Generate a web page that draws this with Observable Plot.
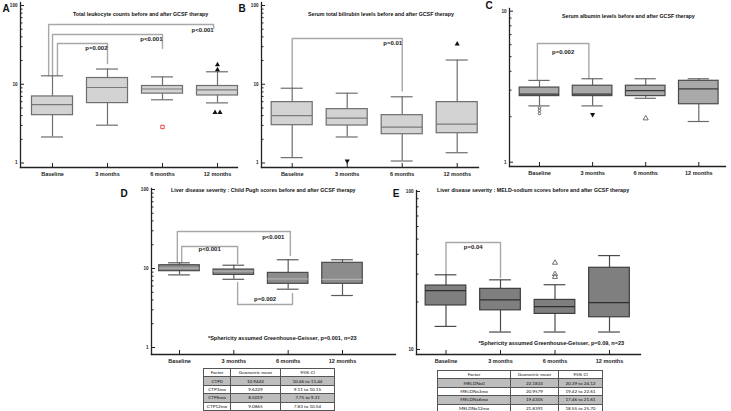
<!DOCTYPE html>
<html><head><meta charset="utf-8">
<script src="https://cdn.jsdelivr.net/npm/d3@7"></script>
<script src="https://cdn.jsdelivr.net/npm/@observablehq/plot@0.6"></script>
<style>
body{margin:0;background:#fff;}
#wrap{position:relative;width:731px;height:411px;overflow:hidden;font-family:"Liberation Sans",Arial,sans-serif;color:#111;}
#wrap svg{position:absolute;overflow:visible;}
.title{position:absolute;font-weight:bold;font-size:5.3px;white-space:nowrap;transform:translate(0,-50%);}
.note{position:absolute;font-weight:bold;font-size:5.5px;white-space:nowrap;}
.letter{position:absolute;font-weight:bold;font-size:10px;transform:translate(-50%,-50%);}
table{position:absolute;border-collapse:collapse;font-family:Lato,"Open Sans",sans-serif;font-size:4.6px;table-layout:fixed;background:#fff;}
td{border:0.8px solid #555;text-align:center;padding:0;height:7.4px;line-height:7px;}
tr.sh td{background:#bdbdbd;}
</style></head><body><div id="wrap"></div>
<script>
const cats = ["Baseline", "3 months", "6 months", "12 months"];

// Panel A: total leukocyte counts
const A_low  = [2.14, 3.02, 6.35, 5.8];
const A_q1   = [4.05, 5.76, 7.6, 7.2];
const A_med  = [5.5, 9.1, 8.7, 8.5];
const A_q3   = [7.0, 12.0, 9.5, 9.5];
const A_high = [12.8, 15.6, 12.4, 14.4];
const A_outCat = [2, 3, 3, 3, 3];
const A_outVal = [2.87, 17.7, 15.3, 4.37, 4.37];
const A_outSym = ["redsquare", "tri", "tri", "tri", "tri"];

// Panel B: serum total bilirubin
const B_low  = [1.17, 2.14, 1.06, 1.35];
const B_q1   = [3.02, 2.99, 2.32, 2.39];
const B_med  = [4.0, 3.71, 2.85, 3.11];
const B_q3   = [5.93, 4.83, 4.05, 5.93];
const B_high = [8.9, 7.7, 6.93, 20.3];
const B_outCat = [1, 3];
const B_outVal = [1.06, 32.5];
const B_outSym = ["tridown", "tri"];

// Panel C: serum albumin
const C_low  = [2.36, 2.36, 2.65, 1.86];
const C_q1   = [2.74, 2.74, 2.74, 2.42];
const C_med  = [2.82, 2.82, 2.98, 3.06];
const C_q3   = [3.12, 3.21, 3.21, 3.46];
const C_high = [3.48, 3.57, 3.57, 3.57];
const C_outCat = [0, 0, 0, 1, 2];
const C_outVal = [2.29, 2.2, 2.1, 2.07, 1.95];
const C_outSym = ["circ", "circ", "circ", "tridown", "triopen"];

// Panel D: Child Pugh scores
const D_low  = [8.3, 7.3, 5.47, 4.55];
const D_q1   = [9.25, 8.3, 6.4, 6.4];
const D_med  = [10.1, 9.25, 7.4, 7.3];
const D_q3   = [11.0, 9.7, 8.8, 11.8];
const D_high = [11.8, 11.0, 12.9, 12.9];

// Panel E: MELD-sodium scores
const E_low  = [14.0, 12.9, 12.9, 12.9];
const E_q1   = [19.0, 17.7, 16.8, 16.0];
const E_med  = [23.6, 20.6, 18.7, 19.8];
const E_q3   = [25.4, 24.2, 20.6, 32.9];
const E_high = [29.7, 27.6, 25.7, 39.3];
const E_outCat = [2, 2, 2];
const E_outVal = [35.4, 30.0, 28.8];
const E_outSym = ["triopen", "triopen", "triopen"];

// significance brackets (category a -> category b, end values, bracket level, label)
const A_brA = [0, 0, 0], A_brB = [3, 2, 1];
const A_brEndA = [12.8, 12.8, 12.8], A_brEndB = [51, 28.4, 18.3];
const A_brLevel = [57.4, 42.8, 32.9], A_brLabel = ["p<0.001", "p<0.001", "p=0.002"];
const B_brA = [0], B_brB = [2], B_brEndA = [8.9], B_brEndB = [8.2], B_brLevel = [38.1], B_brLabel = ["p=0.01"];
const C_brA = [0], C_brB = [1], C_brEndA = [3.48], C_brEndB = [3.57], C_brLevel = [6.11], C_brLabel = ["p=0.002"];
const D_brA = [0, 0, 1], D_brB = [2, 1, 2];
const D_brEndA = [11.8, 11.8, 6.65], D_brEndB = [14.6, 11.6, 4.83];
const D_brLevel = [29.4, 19.0, 3.5], D_brLabel = ["p<0.001", "p<0.001", "p=0.002"];
const E_brA = [0], E_brB = [1], E_brEndA = [29.7], E_brEndB = [28.6], E_brLevel = [47.6], E_brLabel = ["p=0.04"];

// tables
const D_factor = ["CTP0", "CTP3mo", "CTP6mo", "CTP12mo"];
const D_gmean  = ["10.9442", "9.6229", "8.5019", "9.0865"];
const D_ci     = ["10.46 to 11.44", "9.11 to 10.15", "7.75 to 9.31", "7.83 to 10.54"];
const E_factor = ["MELDNa0", "MELDNa3mo", "MELDNa6mo", "MELDNa12mo"];
const E_gmean  = ["22.1833", "20.9579", "19.4305", "21.8391"];
const E_ci     = ["20.39 to 24.12", "19.42 to 22.61", "17.46 to 21.61", "18.55 to 25.70"];
const tableHead = ["Factor", "Geometric mean", "95% CI"];

const wrap = document.getElementById("wrap");

function boxPanel(o) {
  const idx = d3.range(cats.length);
  const hw = 0.373, cw = 0.2;
  const marks = [
    Plot.axisY({ticks: o.major, tickSize: -4, tickPadding: 7, tickFormat: d => String(d), fontSize: 4.6, fontWeight: "bold", strokeWidth: 1, label: null}),
    Plot.axisY({ticks: o.minor, tickSize: -2.5, tickFormat: () => "", strokeWidth: 1, label: null}),
    Plot.axisX({ticks: idx, tickSize: -4, tickPadding: 9, tickFormat: i => cats[i], fontSize: 5.5, fontWeight: "bold", strokeWidth: 1, label: null}),
    Plot.frame({anchor: "left", stroke: "#222", strokeWidth: 1.3}),
    Plot.frame({anchor: "bottom", stroke: "#222", strokeWidth: 1.3})
  ];
  // brackets
  const br = o.br;
  const pts = [];
  br.a.forEach((a, k) => {
    const xa = a + (br.offA ? br.offA[k] : 0), xb = br.b[k] + (br.offB ? br.offB[k] : 0);
    pts.push({id: k, x: xa, y: br.endA[k]}, {id: k, x: xa, y: br.level[k]},
             {id: k, x: xb, y: br.level[k]}, {id: k, x: xb, y: br.endB[k]});
    const lab = br.lab[k];
    marks.push(Plot.text([k], {
      x: lab.anchor === "end" ? xb : (xa + xb) / 2, y: br.level[k], text: () => br.label[k],
      textAnchor: lab.anchor === "end" ? "end" : "middle", dx: lab.dx || 0, dy: lab.dy,
      fontSize: 6, fontWeight: "bold", fill: "#222"}));
  });
  marks.unshift(Plot.line(pts, {x: "x", y: "y", z: "id", stroke: "#a8a8a8", strokeWidth: 1.4}));
  const s = o.style;
  marks.push(
    Plot.ruleX(idx, {x: i => i, y1: i => o.q3[i], y2: i => o.high[i], stroke: s.whisk, strokeWidth: 1.2}),
    Plot.ruleX(idx, {x: i => i, y1: i => o.low[i], y2: i => o.q1[i], stroke: s.whisk, strokeWidth: 1.2}),
    Plot.ruleY(idx, {y: i => o.high[i], x1: i => i - cw, x2: i => i + cw, stroke: s.whisk, strokeWidth: 1.2}),
    Plot.ruleY(idx, {y: i => o.low[i], x1: i => i - cw, x2: i => i + cw, stroke: s.whisk, strokeWidth: 1.2}),
    Plot.rect(idx, {x1: i => i - hw, x2: i => i + hw, y1: i => o.q1[i], y2: i => o.q3[i], fill: s.fill, stroke: s.stroke, strokeWidth: 1.2}),
    Plot.ruleY(idx, {y: i => o.med[i], x1: i => i - hw, x2: i => i + hw, stroke: s.med, strokeWidth: 1.2})
  );
  if (o.outCat) {
    const outs = o.outCat.map((c, k) => ({c, v: o.outVal[k], s: o.outSym[k]}));
    // spread identical points side by side
    outs.forEach((d) => {
      const same = outs.filter(e => e.c === d.c && e.v === d.v);
      const j = same.indexOf(d);
      d.x = d.c + (same.length > 1 ? (j - (same.length - 1) / 2) * 0.09 : 0);
    });
    const sel = t => outs.filter(d => d.s === t);
    marks.push(
      Plot.dot(sel("tri"), {x: "x", y: "v", symbol: "triangle", r: 1.9, fill: "#111"}),
      Plot.dot(sel("tridown"), {x: "x", y: "v", symbol: "triangle", r: 1.9, fill: "#111", rotate: 180}),
      Plot.dot(sel("triopen"), {x: "x", y: "v", symbol: "triangle", r: 1.9, fill: "white", stroke: "#333", strokeWidth: 0.7}),
      Plot.dot(sel("circ"), {x: "x", y: "v", symbol: "circle", r: 1.3, fill: "white", stroke: "#333", strokeWidth: 0.7}),
      Plot.dot(sel("redsquare"), {x: "x", y: "v", symbol: "square", r: 1.9, fill: "white", stroke: "#e03030", strokeWidth: 0.9})
    );
  }
  const svg = Plot.plot({
    width: o.w, height: o.h,
    marginLeft: o.ml, marginTop: o.mt, marginBottom: o.mb, marginRight: o.mr,
    x: {domain: [0, cats.length - 1], range: o.xr, label: null},
    y: {type: "log", domain: o.yd, range: o.yr, label: null},
    style: {fontFamily: "'Liberation Sans', Arial, sans-serif", color: "#222", background: "transparent", overflow: "visible"},
    marks
  });
  svg.style.left = o.left + "px";
  svg.style.top = o.top + "px";
  wrap.appendChild(svg);
}

const minors1 = [2,3,4,5,6,7,8,9,20,30,40,50,60,70,80,90];
const styleLight = {fill: "#d3d3d3", stroke: "#6e6e6e", whisk: "#6e6e6e", med: "#7a7a7a"};

boxPanel({left: 0, top: 0, w: 240, h: 185, ml: 20, mt: 2, mb: 18, mr: 3,
  xr: [52, 217], yd: [1, 100], yr: [162.5, 5], major: [1, 10, 100], minor: minors1,
  low: A_low, q1: A_q1, med: A_med, q3: A_q3, high: A_high,
  outCat: A_outCat, outVal: A_outVal, outSym: A_outSym, style: styleLight,
  br: {a: A_brA, b: A_brB, offA: [-0.07, 0, 0.09], offB: [-0.07, 0, 0], endA: A_brEndA, endB: A_brEndB, level: A_brLevel, label: A_brLabel,
       lab: [{anchor: "end", dy: 6}, {anchor: "end", dy: 5}, {anchor: "end", dy: 5}]}});

boxPanel({left: 240, top: 0, w: 240, h: 185, ml: 21, mt: 2, mb: 18, mr: 2,
  xr: [51.7, 216.7], yd: [1, 100], yr: [162.5, 5], major: [1, 10, 100], minor: minors1,
  low: B_low, q1: B_q1, med: B_med, q3: B_q3, high: B_high,
  outCat: B_outCat, outVal: B_outVal, outSym: B_outSym, style: styleLight,
  br: {a: B_brA, b: B_brB, endA: B_brEndA, endB: B_brEndB, level: B_brLevel, label: B_brLabel,
       lab: [{anchor: "end", dy: 5}]}});

boxPanel({left: 485, top: 0, w: 243, h: 185, ml: 24, mt: 8, mb: 19, mr: 3,
  xr: [54, 213.3], yd: [1, 10], yr: [161.7, 10.7], major: [1, 10], minor: [2,3,4,5,6,7,8,9],
  low: C_low, q1: C_q1, med: C_med, q3: C_q3, high: C_high,
  outCat: C_outCat, outVal: C_outVal, outSym: C_outSym,
  style: {fill: "#a9a9a9", stroke: "#4a4a4a", whisk: "#6a6a6a", med: "#3a3a3a"},
  br: {a: C_brA, b: C_brB, offA: [-0.04], offB: [-0.07], endA: C_brEndA, endB: C_brEndB, level: C_brLevel, label: C_brLabel,
       lab: [{anchor: "mid", dy: 9}]}});

boxPanel({left: 0, top: 180, w: 400, h: 190, ml: 151, mt: 8, mb: 16, mr: 5,
  xr: [179, 342], yd: [1, 100], yr: [167, 9], major: [1, 10, 100], minor: minors1,
  low: D_low, q1: D_q1, med: D_med, q3: D_q3, high: D_high,
  style: {fill: "#8c8c8c", stroke: "#4a4a4a", whisk: "#5a5a5a", med: "#b0b0b0"},
  br: {a: D_brA, b: D_brB, offA: [-0.04, 0.04, 0.07], offB: [0.04, 0.07, 0.08], endA: D_brEndA, endB: D_brEndB, level: D_brLevel, label: D_brLabel,
       lab: [{anchor: "end", dx: -6, dy: 6}, {anchor: "mid", dy: 3}, {anchor: "mid", dy: -5}]}});

boxPanel({left: 400, top: 180, w: 245, h: 190, ml: 16, mt: 10, mb: 16, mr: 5,
  xr: [45.5, 209], yd: [10, 100], yr: [169, 11], major: [10, 100], minor: [20,30,40,50,60,70,80,90],
  low: E_low, q1: E_q1, med: E_med, q3: E_q3, high: E_high,
  outCat: E_outCat, outVal: E_outVal, outSym: E_outSym,
  style: {fill: "#7f7f7f", stroke: "#3e3e3e", whisk: "#4a4a4a", med: "#2e2e2e"},
  br: {a: E_brA, b: E_brB, endA: E_brEndA, endB: E_brEndB, level: E_brLevel, label: E_brLabel,
       lab: [{anchor: "mid", dy: 5}]}});

// titles, letters, notes
function addDiv(cls, text, x, y, extra) {
  const d = document.createElement("div");
  d.className = cls; d.textContent = text;
  d.style.left = x + "px"; d.style.top = y + "px";
  if (extra) Object.assign(d.style, extra);
  wrap.appendChild(d);
}
addDiv("title", "Total leukocyte counts before and after GCSF therapy", 73, 14);
addDiv("title", "Serum total bilirubin levels before and after GCSF therapy", 308, 14);
addDiv("title", "Serum albumin levels before and after GCSF therapy", 562, 16);
addDiv("title", "Liver disease severity : Child Pugh scores before and after GCSF therapy", 171, 190);
addDiv("title", "Liver disease severity : MELD-sodium scores before and after GCSF therapy", 437, 190);
addDiv("letter", "A", 6, 8);
addDiv("letter", "B", 242, 8);
addDiv("letter", "C", 489, 5);
addDiv("letter", "D", 124, 193);
addDiv("letter", "E", 396, 193);
addDiv("note", "*Sphericity assumed Greenhouse-Geisser, p=0.001, n=23", 208, 338, {transform: "translate(0,-50%)"});
addDiv("note", "*Sphericity assumed Greenhouse-Geisser, p=0.09, n=23", 624, 343, {transform: "translate(-100%,-50%)"});

function addTable(x, y, widths, factor, gmean, ci) {
  const t = document.createElement("table");
  t.style.left = x + "px"; t.style.top = y + "px";
  t.style.width = d3.sum(widths) + "px";
  const cg = document.createElement("colgroup");
  widths.forEach(w => { const c = document.createElement("col"); c.style.width = w + "px"; cg.appendChild(c); });
  t.appendChild(cg);
  const rows = [tableHead].concat(factor.map((f, i) => [f, gmean[i], ci[i]]));
  rows.forEach((r, i) => {
    const tr = document.createElement("tr");
    if (i === 1 || i === 3) tr.className = "sh";
    r.forEach(v => { const td = document.createElement("td"); td.textContent = v; tr.appendChild(td); });
    t.appendChild(tr);
  });
  wrap.appendChild(t);
}
addTable(203, 368, [27, 50, 54], D_factor, D_gmean, D_ci);
addTable(437, 370, [73, 48, 44], E_factor, E_gmean, E_ci);
</script></body></html>
